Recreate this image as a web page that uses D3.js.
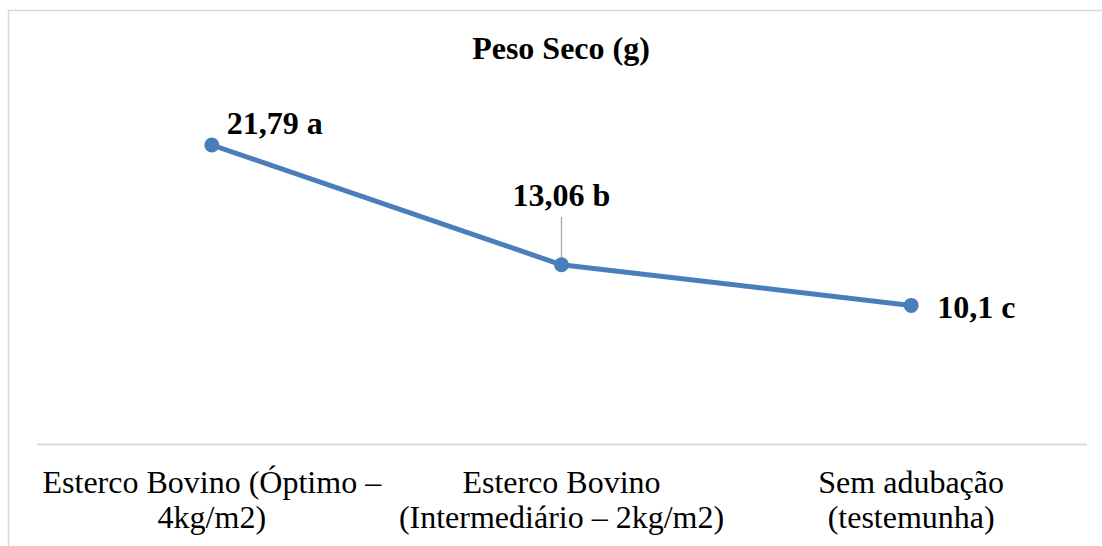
<!DOCTYPE html>
<html>
<head>
<meta charset="utf-8">
<script src="https://cdn.jsdelivr.net/npm/d3@7"></script>
<style>
  html, body { margin: 0; padding: 0; background: #fff; }
  svg { display: block; }
</style>
</head>
<body>
<script>
// Dry weight per treatment
const categories = [
  ["Esterco Bovino (Óptimo –", "4kg/m2)"],
  ["Esterco Bovino", "(Intermediário – 2kg/m2)"],
  ["Sem adubação", "(testemunha)"]
];
const values = [21.79, 13.06, 10.1];
const valueLabels = ["21,79 a", "13,06 b", "10,1 c"];
const title = "Peso Seco (g)";

const W = 1102, H = 546;
const plot = { left: 37, right: 1086, top: 100, bottom: 444 };
const serif = "'Liberation Serif', 'Times New Roman', serif";

const svg = d3.select("body").append("svg")
  .attr("width", W).attr("height", H);

// chart border
svg.append("rect")
  .attr("x", 8.5).attr("y", 10.5)
  .attr("width", W + 20).attr("height", H + 20)
  .attr("fill", "none").attr("stroke", "#d9d9d9").attr("stroke-width", 1.5);

const x = d3.scaleBand()
  .domain(d3.range(categories.length))
  .range([plot.left, plot.right]);

const y = d3.scaleLinear()
  .domain([0, 25])
  .range([plot.bottom, plot.bottom - 25 * (299 / 21.79)]);

const cx = i => x(i) + x.bandwidth() / 2;

svg.append("text")
  .attr("x", 561).attr("y", 59)
  .attr("text-anchor", "middle")
  .style("font-family", serif)
  .style("font-weight", "bold")
  .style("font-size", "32px")
  .text(title);

// category axis
const axis = svg.append("g")
  .attr("transform", `translate(0,${plot.bottom})`)
  .call(d3.axisBottom(x).tickSize(0).tickFormat(""));
axis.select(".domain").attr("stroke", "#d9d9d9").attr("stroke-width", 2);

const catLabels = svg.append("g")
  .style("font-family", serif)
  .style("font-size", "32px")
  .attr("fill", "#000")
  .attr("text-anchor", "middle");
categories.forEach((lines, i) => {
  const t = catLabels.append("text").attr("x", cx(i)).attr("y", 493);
  lines.forEach((ln, j) => {
    t.append("tspan").attr("x", cx(i)).attr("dy", j === 0 ? 0 : 35).text(ln);
  });
});

// series line
const line = d3.line().x((d, i) => cx(i)).y(d => y(d));
svg.append("path")
  .datum(values)
  .attr("d", line)
  .attr("fill", "none")
  .attr("stroke", "#4a7ebb")
  .attr("stroke-width", 5)
  .attr("stroke-linejoin", "round");

// leader line for the middle label
svg.append("line")
  .attr("x1", cx(1)).attr("x2", cx(1))
  .attr("y1", 217).attr("y2", y(values[1]))
  .attr("stroke", "#a6a6a6").attr("stroke-width", 1.3);

svg.selectAll("circle.pt")
  .data(values)
  .enter().append("circle")
  .attr("class", "pt")
  .attr("cx", (d, i) => cx(i))
  .attr("cy", d => y(d))
  .attr("r", 7.5)
  .attr("fill", "#4a7ebb");

// value labels
const labelPos = [
  { dx: 15, dy: -11, anchor: "start" },
  { dx: 0, dy: -59, anchor: "middle" },
  { dx: 26, dy: 13, anchor: "start" }
];
svg.selectAll("text.val")
  .data(values)
  .enter().append("text")
  .attr("class", "val")
  .attr("x", (d, i) => cx(i) + labelPos[i].dx)
  .attr("y", (d, i) => y(d) + labelPos[i].dy)
  .attr("text-anchor", (d, i) => labelPos[i].anchor)
  .style("font-family", serif)
  .style("font-weight", "bold")
  .style("font-size", "32px")
  .text((d, i) => valueLabels[i]);
</script>
</body>
</html>
